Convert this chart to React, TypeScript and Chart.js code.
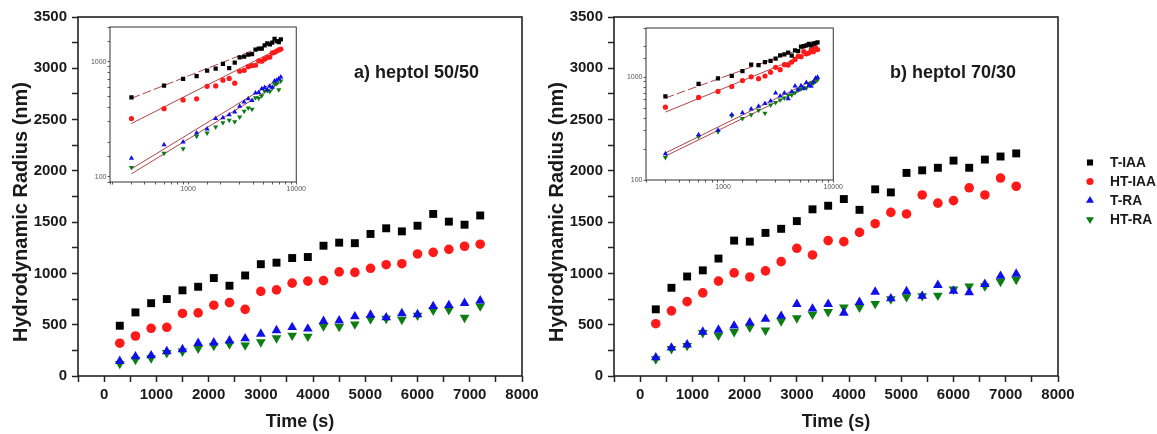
import React, { useEffect, useRef } from 'react';
import { Chart, registerables } from 'chart.js';
import { drawPoint } from 'chart.js/helpers';

Chart.register(...registerables);

// ---------------- data ----------------
const TIME_S = [300, 600, 900, 1200, 1500, 1800, 2100, 2400, 2700, 3000, 3300, 3600, 3900, 4200, 4500, 4800, 5100, 5400, 5700, 6000, 6300, 6600, 6900, 7200];

const SERIES_NAMES = ['T-IAA', 'HT-IAA', 'T-RA', 'HT-RA'];

// a) heptol 50/50
const A_T_IAA = [490, 620, 710, 750, 835, 870, 955, 880, 980, 1090, 1105, 1150, 1160, 1270, 1300, 1295, 1385, 1440, 1410, 1465, 1580, 1505, 1475, 1565];
const A_HT_IAA = [320, 390, 465, 475, 610, 615, 690, 715, 650, 825, 840, 905, 925, 930, 1015, 1010, 1050, 1085, 1095, 1190, 1205, 1235, 1265, 1285];
const A_T_RA = [145, 190, 200, 240, 260, 320, 325, 345, 365, 410, 445, 475, 460, 535, 540, 580, 595, 570, 610, 600, 680, 690, 710, 735];
const A_HT_RA = [120, 160, 175, 225, 240, 270, 295, 310, 300, 330, 370, 395, 385, 485, 480, 505, 555, 560, 550, 590, 640, 645, 570, 680];

// b) heptol 70/30
const B_T_IAA = [650, 860, 970, 1030, 1145, 1320, 1310, 1395, 1435, 1510, 1625, 1660, 1725, 1620, 1820, 1790, 1980, 2005, 2030, 2100, 2030, 2110, 2140, 2170];
const B_HT_IAA = [510, 635, 725, 810, 925, 1005, 965, 1025, 1115, 1245, 1180, 1320, 1310, 1400, 1485, 1595, 1580, 1765, 1685, 1710, 1835, 1765, 1930, 1850];
const B_T_RA = [180, 275, 305, 430, 450, 490, 520, 555, 585, 700, 655, 700, 615, 720, 820, 755, 825, 780, 885, 830, 815, 895, 975, 995];
const B_HT_RA = [165, 265, 295, 420, 395, 430, 475, 445, 535, 565, 600, 625, 670, 670, 705, 750, 770, 780, 785, 845, 875, 875, 920, 940];

// power-law fits shown in the log-log insets (end points)
const FIT_TIME = [300, 7200];
const A_FIT_T_IAA = [480, 1560];
const A_FIT_HT_IAA = [290, 1320];
const A_FIT_T_RA = [117, 725];
const A_FIT_HT_RA = [106, 660];
const B_FIT_T_IAA = [626, 2140];
const B_FIT_HT_IAA = [457, 1830];
const B_FIT_T_RA = [183, 978];
const B_FIT_HT_RA = [171, 894];

// tick labels
const X_TICK_LABELS = [0, 1000, 2000, 3000, 4000, 5000, 6000, 7000, 8000];
const Y_TICK_LABELS = [0, 500, 1000, 1500, 2000, 2500, 3000, 3500];
const INSET_X_LABELS = [1000, 10000];
const INSET_Y_LABELS = [100, 1000];

const X_TITLE = 'Time (s)';
const Y_TITLE = 'Hydrodynamic Radius (nm)';
const PANEL_A = 'a) heptol 50/50';
const PANEL_B = 'b) heptol 70/30';

// ---------------- style ----------------
const FONT = '"Liberation Sans", Arial, Helvetica, sans-serif';
const TEXT = '#1a1a1a';
const AXIS = '#222222';
const COLORS = ['#000000', '#ff1a1a', '#1010e6', '#0d7d12'];
const STYLES: { pointStyle: string; rotation: number }[] = [
  { pointStyle: 'rect', rotation: 0 },
  { pointStyle: 'circle', rotation: 0 },
  { pointStyle: 'triangle', rotation: 0 },
  { pointStyle: 'triangle', rotation: 180 },
];
const MAIN_RADIUS = [5.6, 4.8, 5.6, 5.6];
const INSET_RADIUS = [3, 2.6, 3, 3];
const LEGEND_RADIUS = [4.3, 3.6, 4.6, 4.6];
const FIT_COLOR = '#b04448';

const toXY = (xs: number[], ys: number[]) => ys.map((y, i) => ({ x: xs[i], y }));

const framePlugin = (lw: number, color: string) => ({
  id: 'frame',
  afterDraw(chart: any) {
    const { ctx, chartArea: a } = chart;
    ctx.save();
    ctx.strokeStyle = color;
    ctx.lineWidth = lw;
    ctx.strokeRect(a.left, a.top, a.right - a.left, a.bottom - a.top);
    ctx.restore();
  },
});

const decorPlugin = (panelLabel: string, withLegend: boolean) => ({
  id: 'decor',
  afterDraw(chart: any) {
    const { ctx, chartArea: a } = chart;
    ctx.save();
    ctx.fillStyle = TEXT;
    ctx.textBaseline = 'middle';
    // y-axis title
    ctx.save();
    ctx.font = `bold 20px ${FONT}`;
    ctx.textAlign = 'center';
    ctx.translate(21, 212);
    ctx.rotate(-Math.PI / 2);
    ctx.fillText(Y_TITLE, 0, 0);
    ctx.restore();
    // panel annotation
    ctx.font = `bold 18px ${FONT}`;
    ctx.textAlign = 'left';
    ctx.fillText(panelLabel, a.left + 276, 73);
    // legend
    if (withLegend) {
      ctx.font = `bold 13.8px ${FONT}`;
      SERIES_NAMES.forEach((name, i) => {
        const y = 162.5 + i * 19;
        ctx.fillStyle = COLORS[i];
        ctx.strokeStyle = COLORS[i];
        drawPoint(ctx, { pointStyle: STYLES[i].pointStyle as any, rotation: STYLES[i].rotation, radius: LEGEND_RADIUS[i], borderWidth: 0 } as any, a.right + 32, y);
        ctx.fillStyle = TEXT;
        ctx.fillText(name, a.right + 52, y + 0.5);
      });
    }
    ctx.restore();
  },
});

function mainConfig(series: number[][], panelLabel: string, rightPad: number, withLegend: boolean): any {
  return {
    type: 'scatter',
    data: {
      datasets: series.map((vals, i) => ({
        label: SERIES_NAMES[i],
        data: toXY(TIME_S, vals),
        pointStyle: STYLES[i].pointStyle,
        rotation: STYLES[i].rotation,
        pointRadius: MAIN_RADIUS[i],
        pointBackgroundColor: COLORS[i],
        pointBorderColor: COLORS[i],
        pointBorderWidth: 0,
        showLine: false,
      })),
    },
    options: {
      animation: false,
      responsive: false,
      devicePixelRatio: 1,
      events: [],
      layout: { padding: { left: 0, top: 17, right: rightPad, bottom: 0 } },
      plugins: { legend: { display: false }, tooltip: { enabled: false } },
      scales: {
        x: {
          type: 'linear',
          min: -500,
          max: 8000,
          ticks: {
            stepSize: 500,
            autoSkip: false,
            maxRotation: 0,
            padding: 4,
            color: TEXT,
            font: { family: FONT, size: 15, weight: 'bold' },
            callback: (v: number) => (X_TICK_LABELS.includes(v) ? String(v) : ''),
          },
          grid: { drawOnChartArea: false, tickLength: 6, tickColor: AXIS, tickWidth: 1.5 },
          border: { display: false },
          title: { display: true, text: X_TITLE, color: TEXT, font: { family: FONT, size: 18, weight: 'bold' }, padding: { top: 0, bottom: 1 } },
          afterFit: (s: any) => { s.height = 58; },
        },
        y: {
          type: 'linear',
          min: 0,
          max: 3500,
          ticks: {
            stepSize: 250,
            autoSkip: false,
            padding: 5,
            color: TEXT,
            font: { family: FONT, size: 15, weight: 'bold' },
            callback: (v: number) => (Y_TICK_LABELS.includes(v) ? String(v) : ''),
          },
          grid: { drawOnChartArea: false, tickLength: 6, tickColor: AXIS, tickWidth: 1.5 },
          border: { display: false },
          afterFit: (s: any) => { s.width = 78; },
        },
      },
    },
    plugins: [framePlugin(1.6, AXIS), decorPlugin(panelLabel, withLegend)],
  };
}

const isLabel = (list: number[], v: number) => list.some((L) => Math.abs(v - L) < 1e-6 * L);

function insetConfig(series: number[][], fits: number[][], xmin: number, ymin: number, ymax: number, topPad: number): any {
  const pts = series.map((vals, i) => ({
    label: SERIES_NAMES[i],
    data: toXY(TIME_S, vals),
    pointStyle: STYLES[i].pointStyle,
    rotation: STYLES[i].rotation,
    pointRadius: INSET_RADIUS[i],
    pointBackgroundColor: COLORS[i],
    pointBorderColor: COLORS[i],
    pointBorderWidth: 0,
    showLine: false,
  }));
  const lines = fits.map((f, i) => ({
    label: SERIES_NAMES[i] + ' fit',
    data: toXY(FIT_TIME, f),
    showLine: true,
    pointRadius: 0,
    borderColor: FIT_COLOR,
    borderWidth: 1,
    borderDash: i === 0 ? [9, 3] : [],
    order: 5,
  }));
  const tickFont = { family: FONT, size: 7 };
  return {
    type: 'scatter',
    data: { datasets: [...pts, ...lines] },
    options: {
      animation: false,
      responsive: false,
      devicePixelRatio: 1,
      events: [],
      layout: { padding: { left: 0, top: topPad, right: 6, bottom: 0 } },
      plugins: { legend: { display: false }, tooltip: { enabled: false } },
      scales: {
        x: {
          type: 'logarithmic',
          min: xmin,
          max: 10000,
          ticks: { autoSkip: false, maxRotation: 0, padding: 0, color: '#555', font: tickFont, callback: (v: number) => (isLabel(INSET_X_LABELS, v) ? String(v) : '') },
          grid: { drawOnChartArea: false, tickLength: 2.5, tickColor: '#333', tickWidth: 0.8 },
          border: { display: false },
          afterFit: (s: any) => { s.height = 14; },
        },
        y: {
          type: 'logarithmic',
          min: ymin,
          max: ymax,
          ticks: { autoSkip: false, padding: 1, color: '#555', font: tickFont, callback: (v: number) => (isLabel(INSET_Y_LABELS, v) ? String(v) : '') },
          grid: { drawOnChartArea: false, tickLength: 2.5, tickColor: '#333', tickWidth: 0.8 },
          border: { display: false },
          afterFit: (s: any) => { s.width = 30; },
        },
      },
    },
    plugins: [framePlugin(1, '#333')],
  };
}

function ChartCanvas({ makeConfig, left, top, width, height }: { makeConfig: () => any; left: number; top: number; width: number; height: number }) {
  const ref = useRef<HTMLCanvasElement>(null);
  useEffect(() => {
    const chart = new Chart(ref.current as HTMLCanvasElement, makeConfig());
    return () => chart.destroy();
  }, []);
  return <canvas ref={ref} width={width} height={height} style={{ position: 'absolute', left, top, width, height }} />;
}

export default function App() {
  useEffect(() => {
    document.body.style.margin = '0';
  }, []);
  const A = [A_T_IAA, A_HT_IAA, A_T_RA, A_HT_RA];
  const B = [B_T_IAA, B_HT_IAA, B_T_RA, B_HT_RA];
  const AF = [A_FIT_T_IAA, A_FIT_HT_IAA, A_FIT_T_RA, A_FIT_HT_RA];
  const BF = [B_FIT_T_IAA, B_FIT_HT_IAA, B_FIT_T_RA, B_FIT_HT_RA];
  return (
    <div style={{ position: 'absolute', left: 0, top: 0, width: 1157, height: 434, background: '#ffffff', overflow: 'hidden' }}>
      <ChartCanvas makeConfig={() => mainConfig(A, PANEL_A, 38, false)} left={0} top={0} width={560} height={434} />
      <ChartCanvas makeConfig={() => mainConfig(B, PANEL_B, 99, true)} left={536} top={0} width={621} height={434} />
      <ChartCanvas makeConfig={() => insetConfig(A, AF, 190, 90, 2000, 7)} left={80} top={20} width={226} height={176} />
      <ChartCanvas makeConfig={() => insetConfig(B, BF, 200, 100, 3000, 8)} left={616} top={20} width={227} height={174} />
    </div>
  );
}
